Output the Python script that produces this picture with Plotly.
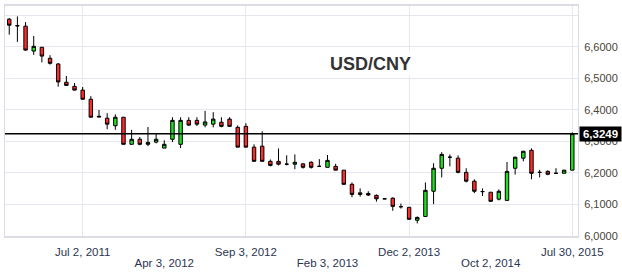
import plotly.graph_objects as go

# ---- data ----
opens = [6.688, 6.668, 6.666, 6.587, 6.599, 6.564, 6.546, 6.488, 6.475, 6.463,
         6.434, 6.380, 6.374, 6.350, 6.377, 6.291, 6.307, 6.291, 6.298, 6.279,
         6.307, 6.291, 6.367, 6.367, 6.352, 6.355, 6.361, 6.371, 6.345, 6.348,
         6.282, 6.285, 6.237, 6.237, 6.228, 6.228, 6.229, 6.234, 6.221, 6.218,
         6.221, 6.209, 6.164, 6.137, 6.135, 6.129, 6.118, 6.120, 6.093, 6.091,
         6.050, 6.062, 6.142, 6.215, 6.250, 6.247, 6.202, 6.174, 6.141, 6.139,
         6.117, 6.113, 6.215, 6.247, 6.272, 6.202, 6.205, 6.199, 6.199, 6.209]
highs = [6.692, 6.697, 6.679, 6.635, 6.600, 6.574, 6.549, 6.508, 6.486, 6.473,
         6.444, 6.400, 6.390, 6.386, 6.377, 6.337, 6.314, 6.346, 6.326, 6.304,
         6.377, 6.377, 6.377, 6.377, 6.397, 6.393, 6.377, 6.377, 6.351, 6.358,
         6.291, 6.332, 6.243, 6.278, 6.256, 6.259, 6.231, 6.237, 6.244, 6.257,
         6.229, 6.209, 6.170, 6.151, 6.142, 6.132, 6.119, 6.123, 6.103, 6.091,
         6.062, 6.170, 6.231, 6.266, 6.259, 6.256, 6.215, 6.180, 6.151, 6.139,
         6.148, 6.235, 6.252, 6.270, 6.278, 6.210, 6.209, 6.215, 6.209, 6.329]
lows = [6.639, 6.616, 6.588, 6.575, 6.551, 6.544, 6.474, 6.477, 6.462, 6.434,
        6.377, 6.378, 6.339, 6.337, 6.291, 6.291, 6.288, 6.285, 6.294, 6.279,
        6.298, 6.279, 6.349, 6.349, 6.345, 6.345, 6.345, 6.348, 6.282, 6.282,
        6.237, 6.237, 6.221, 6.224, 6.224, 6.212, 6.214, 6.214, 6.221, 6.218,
        6.209, 6.164, 6.123, 6.125, 6.127, 6.109, 6.117, 6.080, 6.087, 6.053,
        6.040, 6.062, 6.101, 6.186, 6.221, 6.199, 6.170, 6.136, 6.127, 6.110,
        6.113, 6.113, 6.195, 6.237, 6.180, 6.186, 6.193, 6.199, 6.199, 6.209]
closes = [6.669, 6.667, 6.590, 6.602, 6.571, 6.548, 6.489, 6.478, 6.463, 6.434,
          6.377, 6.378, 6.355, 6.377, 6.291, 6.307, 6.291, 6.297, 6.307, 6.291,
          6.367, 6.367, 6.352, 6.355, 6.362, 6.371, 6.348, 6.348, 6.282, 6.282,
          6.237, 6.237, 6.224, 6.228, 6.228, 6.234, 6.218, 6.218, 6.221, 6.240,
          6.209, 6.164, 6.132, 6.132, 6.130, 6.118, 6.118, 6.094, 6.093, 6.053,
          6.059, 6.145, 6.215, 6.259, 6.250, 6.202, 6.174, 6.142, 6.141, 6.110,
          6.142, 6.205, 6.250, 6.269, 6.199, 6.202, 6.196, 6.199, 6.209, 6.3249]
idx = list(range(len(opens)))

row1_ticks = [9, 29, 49, 69]
row1_labels = ["Jul 2, 2011", "Sep 3, 2012", "Dec 2, 2013", "Jul 30, 2015"]
row2_ticks = [19, 39, 59]
row2_labels = ["Apr 3, 2012", "Feb 3, 2013", "Oct 2, 2014"]
y_ticks = [6.0, 6.1, 6.2, 6.3, 6.4, 6.5, 6.6, 6.7]
y_labels = ["6,0000", "6,1000", "6,2000", "6,3000", "6,4000", "6,5000", "6,6000", ""]
last_price = closes[-1]
last_label = "6,3249"
title = "USD/CNY"

FONT = "Arial, Liberation Sans, sans-serif"
GRID = "#e6e6ee"

fig = go.Figure()
fig.add_trace(go.Candlestick(
    x=idx, open=opens, high=highs, low=lows, close=closes,
    increasing=dict(fillcolor="#22dd22", line=dict(color="#000000", width=1)),
    decreasing=dict(fillcolor="#ff2a2a", line=dict(color="#000000", width=1)),
    whiskerwidth=0, showlegend=False, hoverinfo="skip",
))
# invisible trace to carry the second x axis (second row of date labels)
fig.add_trace(go.Scatter(x=[idx[0], idx[-1]], y=[last_price, last_price], xaxis="x2",
                         mode="lines", line=dict(width=0), opacity=0,
                         showlegend=False, hoverinfo="skip"))

xr = [-0.52, 69.7]
fig.update_layout(
    width=622, height=277,
    margin=dict(l=4, r=40, t=6, b=41),
    paper_bgcolor="white", plot_bgcolor="white",
    font=dict(family=FONT),
    boxgap=0.4,
    xaxis=dict(range=xr, rangeslider=dict(visible=False), tickvals=row1_ticks,
               ticktext=row1_labels, showgrid=True, gridcolor=GRID, gridwidth=1,
               zeroline=False, showline=True, linecolor="#dcdce4", linewidth=2, mirror=True,
               ticks="", tickfont=dict(size=11.5, color="#2b3550"), ticklabelstandoff=4,
               fixedrange=True),
    xaxis2=dict(range=xr, overlaying="x", anchor="y", side="bottom", tickvals=row2_ticks,
                ticktext=row2_labels, showgrid=False, zeroline=False, showline=False,
                ticks="", tickfont=dict(size=11.5, color="#2b3550"), ticklabelstandoff=18,
                fixedrange=True),
    yaxis=dict(range=[6.0, 6.730], side="right", tickvals=y_ticks, ticktext=y_labels,
               showgrid=True, gridcolor=GRID, gridwidth=1, zeroline=False,
               showline=True, linecolor="#dcdce4", linewidth=1, mirror=True,
               ticks="", tickfont=dict(size=11, color="#4a4438"), ticklabelstandoff=3,
               fixedrange=True),
    shapes=[dict(type="line", xref="paper", yref="y", x0=0, x1=1, y0=last_price,
                 y1=last_price, line=dict(color="#000000", width=1.5))],
    annotations=[
        dict(text="<b>" + title + "</b>", xref="x", yref="paper", x=44.3, y=0.75,
             showarrow=False, font=dict(size=18, color="#333333", family=FONT),
             bgcolor="white", xanchor="center", yanchor="middle"),
        dict(text="<b>" + last_label + "</b>", xref="paper", yref="y", x=1.0, y=last_price,
             showarrow=False, font=dict(size=11.5, color="white", family=FONT),
             bgcolor="black", xanchor="left", yanchor="middle", xshift=1,
             width=39, height=12, align="center", borderpad=1),
    ],
)
fig.write_html("out.html")
